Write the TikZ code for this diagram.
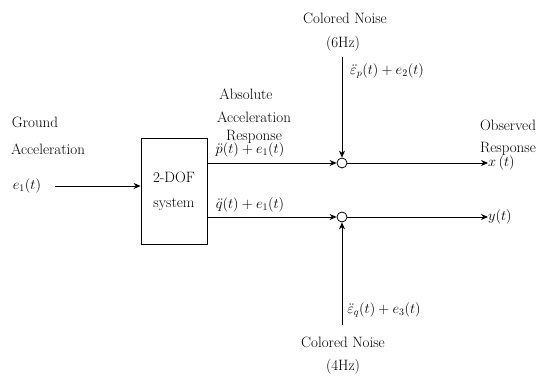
\documentclass[tikz,border=0pt]{standalone}
\usetikzlibrary{arrows.meta}
\begin{document}
\begin{tikzpicture}[x=1pt,y=1pt,
  txt/.style={inner sep=0pt,font=\fontsize{15}{17}\selectfont},
  mth/.style={inner sep=0pt,font=\fontsize{14}{16}\selectfont},
  wire/.style={line width=0.8pt},
  arr/.style={wire,-{Stealth[length=7pt,width=6pt]}},
  sum/.style={circle,draw,line width=0.8pt,minimum size=10pt,inner sep=0pt},
  sysbox/.style={draw,line width=0.8pt,minimum width=66pt,minimum height=106pt,align=center,
                 font=\fontsize{15}{25}\selectfont}]
\useasboundingbox (0,0) rectangle (539,379);

% input side
\node[txt] (g1) at (35,257) {Ground};
\node[txt] (g2) at (48,230) {Acceleration};
\node[mth] (e1) at (27,193) {$e_1(t)$};
\node[sysbox] (sys) at (174,188) {2-DOF\\system};
\coordinate (e1s) at ([xshift=14pt]e1.east);
\draw[arr] (e1s) -- (e1s -| sys.west);

% summing junctions
\node[sum] (s1) at (342,216) {};
\node[sum] (s2) at (342,162) {};

% system outputs
\draw[arr] (sys.east |- s1) -- (s1.west);
\draw[arr] (sys.east |- s2) -- (s2.west);
\node[mth] (lp) at (250,229) {$\ddot{p}(t)+e_1(t)$};
\node[mth] (lq) at (250,174) {$\ddot{q}(t)+e_1(t)$};
\node[txt] (a1) at (246,285) {Absolute};
\node[txt] (a2) at (254,262) {Acceleration};
\node[txt] (a3) at (254,242) {Response};

% noise inputs
\node[txt] (n1) at (345,361) {Colored Noise};
\node[txt] (n1f) at (343,335) {(6Hz)};
\coordinate (n1s) at (342,322);
\draw[arr] (n1s) -- (s1.north);
\node[mth] (ln1) at (387,308) {$\ddot{\varepsilon}_p(t)+e_2(t)$};

\node[txt] (n2) at (343,37) {Colored Noise};
\node[txt] (n2f) at (343,12) {(4Hz)};
\coordinate (n2s) at (342,54);
\draw[arr] (n2s) -- (s2.south);
\node[mth] (ln2) at (384,69) {$\ddot{\varepsilon}_q(t)+e_3(t)$};

% observed outputs
\node[mth,anchor=west] (x) at (488,216) {$x\,(t)$};
\node[mth,anchor=west] (y) at (488,162) {$y(t)$};
\draw[arr] (s1.east) -- (x.west);
\draw[arr] (s2.east) -- (y.west);
\node[txt] (o1) at (508,254) {Observed};
\node[txt] (o2) at (508,230) {Response};
\end{tikzpicture}
\end{document}
